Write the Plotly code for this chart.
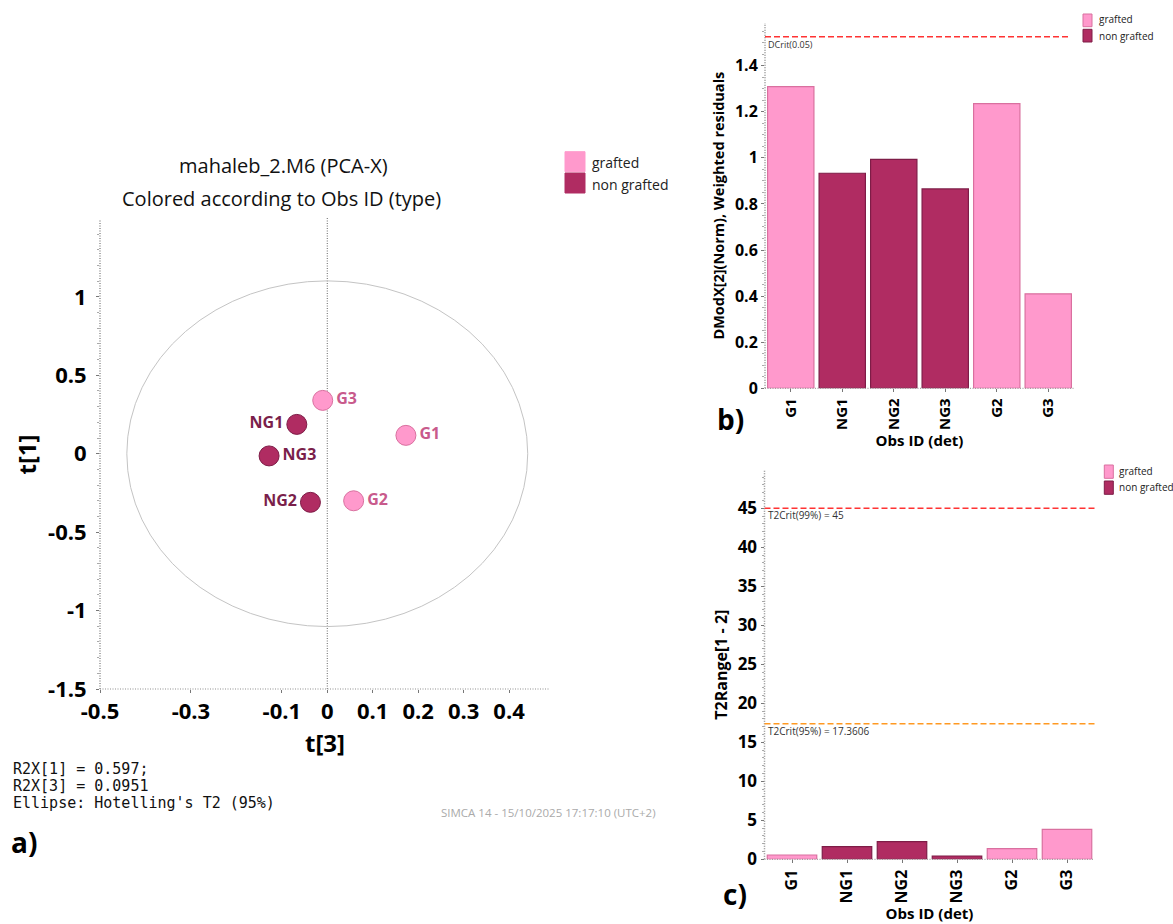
import plotly.graph_objects as go

# ---------------- data ----------------
obs_ids = ["G1", "NG1", "NG2", "NG3", "G2", "G3"]
obs_type = ["grafted", "non grafted", "non grafted", "non grafted", "grafted", "grafted"]
t3_scores = [0.173, -0.067, -0.037, -0.128, 0.058, -0.010]
t1_scores = [0.117, 0.187, -0.310, -0.014, -0.300, 0.340]
label_side = ["middle right", "middle left", "middle left", "middle right", "middle right", "middle right"]
dmodx_norm = [1.309, 0.933, 0.993, 0.865, 1.235, 0.410]
t2_range = [0.55, 1.62, 2.26, 0.42, 1.36, 3.84]
dcrit_005 = 1.525
t2crit_99 = 45.0
t2crit_95 = 17.3606
ellipse_t3 = 0.441
ellipse_t1 = 1.102
x_ticks_a = [-0.5, -0.3, -0.1, 0, 0.1, 0.2, 0.3, 0.4]
x_ticktext_a = ["-0.5", "-0.3", "-0.1", "0", "0.1", "0.2", "0.3", "0.4"]
y_ticks_a = [-1.5, -1, -0.5, 0, 0.5, 1]
y_ticktext_a = ["-1.5", "-1", "-0.5", "0", "0.5", "1"]
y_ticks_b = [0, 0.2, 0.4, 0.6, 0.8, 1.0, 1.2, 1.4]
y_ticktext_b = ["0", "0.2", "0.4", "0.6", "0.8", "1", "1.2", "1.4"]
y_ticks_c = [0, 5, 10, 15, 20, 25, 30, 35, 40, 45]
groups = ["grafted", "non grafted"]

# ---------------- style ----------------
W, H = 1173, 924
FONT = "Open Sans"
fill = {"grafted": "#ff99cc", "non grafted": "#b02c62"}
edge = {"grafted": "#d9709f", "non grafted": "#7e1c47"}
label_col = {"grafted": "#c85a8c", "non grafted": "#7a1f4b"}
AXC = "#8f8f8f"
DOT = "1px,1.5px"


def px(x):
    return x / W


def py(y):
    return 1 - y / H


fig = go.Figure()

# ---------- a) score plot ----------
for g in groups:
    idx = [i for i, t in enumerate(obs_type) if t == g]
    fig.add_trace(go.Scatter(
        x=[t3_scores[i] for i in idx], y=[t1_scores[i] for i in idx],
        text=[obs_ids[i] for i in idx],
        textposition=[label_side[i] for i in idx],
        mode="markers+text", name=g,
        marker=dict(size=20, color=fill[g], line=dict(color=edge[g], width=1)),
        textfont=dict(family=FONT, size=16, color=label_col[g], weight="bold"),
        xaxis="x", yaxis="y", cliponaxis=False,
    ))

# ---------- b) DModX ----------
for g in groups:
    idx = [i for i, t in enumerate(obs_type) if t == g]
    fig.add_trace(go.Bar(
        x=[obs_ids[i] for i in idx], y=[dmodx_norm[i] for i in idx],
        name=g, width=0.9,
        marker=dict(color=fill[g], line=dict(color=edge[g], width=1.2)),
        xaxis="x2", yaxis="y2",
    ))

# ---------- c) T2Range ----------
for g in groups:
    idx = [i for i, t in enumerate(obs_type) if t == g]
    fig.add_trace(go.Bar(
        x=[obs_ids[i] for i in idx], y=[t2_range[i] for i in idx],
        name=g, width=0.9,
        marker=dict(color=fill[g], line=dict(color=edge[g], width=1.2)),
        xaxis="x3", yaxis="y3",
    ))

bold_tick = lambda s: dict(family=FONT, size=s, color="black", weight="bold")
title_font = lambda s: dict(family=FONT, size=s, color="black", weight="bold")

shapes = [
    # ellipse
    dict(type="circle", xref="x", yref="y", x0=-ellipse_t3, x1=ellipse_t3,
         y0=-ellipse_t1, y1=ellipse_t1, line=dict(color="#c4c4c4", width=1), layer="below"),
    # vertical dotted zero line
    dict(type="line", xref="x", yref="y domain", x0=0, x1=0, y0=0, y1=1.005,
         line=dict(color="#666666", width=1, dash=DOT), layer="below"),
    # dotted axis lines
    dict(type="line", xref="x domain", yref="y domain", x0=0, x1=0, y0=0, y1=1,
         line=dict(color=AXC, width=1.5, dash=DOT)),
    dict(type="line", xref="x domain", yref="y domain", x0=0, x1=1, y0=0, y1=0,
         line=dict(color=AXC, width=1, dash=DOT)),
    dict(type="line", xref="x2 domain", yref="y2 domain", x0=0, x1=0, y0=0, y1=1,
         line=dict(color=AXC, width=1.5, dash=DOT)),
    dict(type="line", xref="x2 domain", yref="y2 domain", x0=0, x1=1, y0=0, y1=0,
         line=dict(color=AXC, width=1, dash=DOT)),
    dict(type="line", xref="x3 domain", yref="y3 domain", x0=0, x1=0, y0=0, y1=1,
         line=dict(color=AXC, width=1.5, dash=DOT)),
    dict(type="line", xref="x3 domain", yref="y3 domain", x0=0, x1=1, y0=0, y1=0,
         line=dict(color=AXC, width=1, dash=DOT)),
    # critical limits
    dict(type="line", xref="x2 domain", yref="y2", x0=0, x1=0.99, y0=dcrit_005, y1=dcrit_005,
         line=dict(color="#ff3333", width=1.5, dash="6px,3px")),
    dict(type="line", xref="x3 domain", yref="y3", x0=0, x1=1, y0=t2crit_99, y1=t2crit_99,
         line=dict(color="#ff3333", width=1.5, dash="6px,3px")),
    dict(type="line", xref="x3 domain", yref="y3", x0=0, x1=1, y0=t2crit_95, y1=t2crit_95,
         line=dict(color="#ff9922", width=1.5, dash="6px,3px")),
]


def ann(text, x, y, size, color="black", weight="normal", family=FONT, xanchor="center", yanchor="middle"):
    return dict(text=text, x=px(x), y=py(y), xref="paper", yref="paper", showarrow=False,
                xanchor=xanchor, yanchor=yanchor,
                font=dict(family=family, size=size, color=color, weight=weight))


annotations = [
    ann("mahaleb_2.M6 (PCA-X)", 283, 165, 20, "#111111"),
    ann("Colored according to Obs ID (type)", 281, 198, 20, "#111111"),
    ann("R2X[1] = 0.597;", 11, 769, 15, "#111111", family="DejaVu Sans Mono", xanchor="left"),
    ann("R2X[3] = 0.0951", 11, 786, 15, "#111111", family="DejaVu Sans Mono", xanchor="left"),
    ann("Ellipse: Hotelling's T2 (95%)", 11, 803, 15, "#111111", family="DejaVu Sans Mono", xanchor="left"),
    ann("SIMCA 14 - 15/10/2025 17:17:10 (UTC+2)", 548, 812, 11.5, "#aaaaaa"),
    ann("a)", 24, 842, 28, "black", "bold"),
    ann("b)", 730, 419, 28, "black", "bold"),
    ann("c)", 735, 894, 28, "black", "bold"),
    ann("DCrit(0.05)", 766, 44, 9, "#333333", xanchor="left"),
    ann("T2Crit(99%) = 45", 766, 515, 10, "#333333", xanchor="left"),
    ann("T2Crit(95%) = 17.3606", 766, 731, 10, "#333333", xanchor="left"),
]

# keys (legends) for the three panels: swatch boxes + labels
legend_specs = [
    (565, 585, [(151.7, 171.7, 162.7), (173, 193, 184)], 590, 14, False),
    (1083, 1092, [(14, 26.7, 19.5), (29.3, 42, 35.5)], 1096.5, 10, True),
    (1104.3, 1113.3, [(465, 478.3, 471), (481, 494.3, 486.5)], 1117, 10, True),
]
for sx0, sx1, rows, tx, fs, border in legend_specs:
    for g, (y0, y1, ty) in zip(groups, rows):
        shapes.append(dict(type="rect", xref="paper", yref="paper",
                           x0=px(sx0), x1=px(sx1), y0=py(y1), y1=py(y0),
                           fillcolor=fill[g],
                           line=dict(color=edge[g] if border else fill[g], width=1)))
        annotations.append(ann(g, tx, ty, fs, "#222222", xanchor="left"))

common_ax = dict(showgrid=False, zeroline=False, showline=False, automargin=False,
                 ticks="outside", ticklen=3, tickcolor="#777777")

fig.update_layout(
    width=W, height=H, margin=dict(l=0, r=0, t=0, b=0, autoexpand=False),
    paper_bgcolor="white", plot_bgcolor="white",
    barmode="overlay", showlegend=False,
    font=dict(family=FONT, color="black"),
    shapes=shapes, annotations=annotations,
    xaxis=dict(common_ax, domain=[px(100), px(550)], range=[-0.5, 0.49], anchor="y",
               tickmode="array", tickvals=x_ticks_a, ticktext=x_ticktext_a,
               tickfont=bold_tick(22),
               title=dict(text="t[3]", font=title_font(24), standoff=10)),
    yaxis=dict(common_ax, domain=[py(689), py(220)], range=[-1.5, 1.49], anchor="x",
               tickmode="array", tickvals=y_ticks_a, ticktext=y_ticktext_a,
               tickfont=bold_tick(22), ticklabelstandoff=5,
               minor=dict(dtick=0.1, tick0=0, ticks="outside", ticklen=2, tickcolor="#aaaaaa"),
               title=dict(text="t[1]", font=title_font(24), standoff=4)),
    xaxis2=dict(common_ax, domain=[px(765), px(1074)], anchor="y2", type="category",
                categoryorder="array", categoryarray=obs_ids, range=[-0.5, 5.5],
                tickangle=-90, tickfont=bold_tick(15),
                title=dict(text="Obs ID (det)", font=title_font(15), standoff=6)),
    yaxis2=dict(common_ax, domain=[py(388.3), py(23)], range=[0, 1.585], anchor="x2",
                tickmode="array", tickvals=y_ticks_b, ticktext=y_ticktext_b,
                tickfont=bold_tick(16),
                minor=dict(dtick=0.05, tick0=0, ticks="outside", ticklen=2, tickcolor="#aaaaaa"),
                title=dict(text="DModX[2](Norm), Weighted residuals", font=title_font(14.5), standoff=6)),
    xaxis3=dict(common_ax, domain=[px(764.5), px(1094.5)], anchor="y3", type="category",
                categoryorder="array", categoryarray=obs_ids, range=[-0.5, 5.5],
                tickangle=-90, tickfont=bold_tick(16),
                title=dict(text="Obs ID (det)", font=title_font(15), standoff=6)),
    yaxis3=dict(common_ax, domain=[py(859.3), py(470)], range=[0, 49.9], anchor="x3",
                tickmode="array", tickvals=y_ticks_c,
                tickfont=bold_tick(17),
                minor=dict(dtick=1, tick0=0, ticks="outside", ticklen=2, tickcolor="#aaaaaa"),
                title=dict(text="T2Range[1 - 2]", font=title_font(16), standoff=6)),
)

fig.write_html(
    "out.html",
    config={"displayModeBar": False},
    post_script="document.body.style.margin='0';document.body.style.padding='0';",
)
